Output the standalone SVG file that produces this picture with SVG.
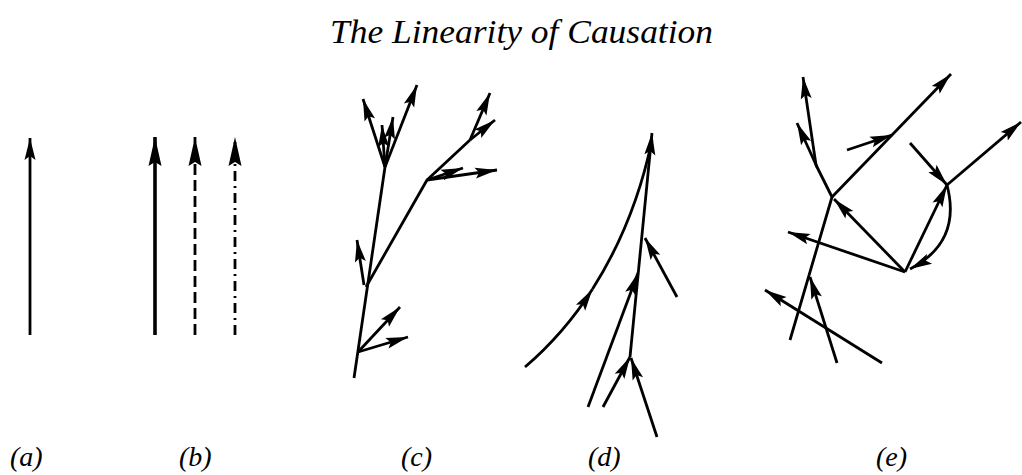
<svg xmlns="http://www.w3.org/2000/svg" width="1022" height="475" viewBox="0 0 1022 475">
<style>
.ln{fill:none;stroke:#000;stroke-width:2.8;stroke-linecap:butt;stroke-linejoin:round}
.ar{marker-end:url(#ah)}
.lab{font-family:"Liberation Serif",serif;font-style:italic;font-size:28px;fill:#000}
.title{font-family:"Liberation Serif",serif;font-style:italic;font-size:34px;fill:#000}
</style>
<defs>
<marker id="ah" markerUnits="userSpaceOnUse" viewBox="-24 -7 26 14" markerWidth="26" markerHeight="14" refX="0" refY="0" orient="auto">
<path d="M0,0 L-22,-5.5 L-18,0 L-22,5.5 Z" fill="#000"/>
</marker>
<marker id="ahb" markerUnits="userSpaceOnUse" viewBox="-32 -8 34 16" markerWidth="34" markerHeight="16" refX="0" refY="0" orient="auto">
<path d="M0,0 L-29,-6.5 L-25,0 L-29,6.5 Z" fill="#000"/>
</marker>
</defs>
<rect width="1022" height="475" fill="#fff"/>
<text class="title" x="330" y="43" textLength="383" lengthAdjust="spacingAndGlyphs">The Linearity of Causation</text>

<g id="connectors">
<g id="fig-a">
<line class="ln ar" x1="30" y1="335" x2="30" y2="138"/>
</g>
<g id="fig-b">
<line class="ln" style="stroke-width:3.6;marker-end:url(#ahb)" x1="155" y1="335" x2="155" y2="137"/>
<line class="ln" style="stroke-dasharray:11,5;marker-end:url(#ahb)" x1="195" y1="335" x2="195" y2="137"/>
<line class="ln" style="stroke-dasharray:10,5,2,5;marker-end:url(#ahb)" x1="235" y1="335" x2="235" y2="137"/>
</g>
<g id="fig-c">
<polyline class="ln" points="354,378 385,167"/>
<polyline class="ln" points="366,287 427,180 470,140"/>
<line class="ln ar" x1="358" y1="352" x2="400" y2="307"/>
<line class="ln ar" x1="358" y1="352" x2="408" y2="337"/>
<line class="ln ar" x1="364" y1="285" x2="357" y2="240"/>
<line class="ln ar" x1="385" y1="167" x2="363" y2="99"/>
<line class="ln ar" x1="385" y1="167" x2="382" y2="125"/>
<line class="ln ar" x1="385" y1="167" x2="393" y2="117"/>
<line class="ln ar" x1="385" y1="167" x2="417" y2="85"/>
<line class="ln ar" x1="470" y1="140" x2="490" y2="93"/>
<line class="ln ar" x1="470" y1="140" x2="495" y2="120"/>
<line class="ln ar" x1="427" y1="180" x2="463" y2="168"/>
<line class="ln ar" x1="427" y1="180" x2="497" y2="170"/>
</g>
<g id="fig-d">
<line class="ln ar" x1="630" y1="357" x2="652" y2="133"/>
<path class="ln ar" d="M525,367 Q564.2,333.4 592.4,289.2"/>
<path class="ln" d="M592.4,289.2 Q634.6,223 652,140"/>
<line class="ln ar" x1="677" y1="297" x2="645" y2="238"/>
<line class="ln ar" x1="588" y1="407" x2="638" y2="273"/>
<line class="ln ar" x1="603" y1="407" x2="630" y2="357"/>
<line class="ln ar" x1="657" y1="437" x2="631" y2="358"/>
</g>
<g id="fig-e">
<polyline class="ln" points="790,340 832,197 816,165"/>
<line class="ln ar" x1="816" y1="165" x2="803" y2="77"/>
<line class="ln ar" x1="817" y1="167" x2="797" y2="123"/>
<line class="ln ar" x1="832" y1="197" x2="951" y2="74"/>
<line class="ln ar" x1="847" y1="150" x2="892" y2="135"/>
<line class="ln ar" x1="905" y1="272" x2="834" y2="199"/>
<line class="ln ar" x1="905" y1="272" x2="788" y2="232"/>
<line class="ln ar" x1="905" y1="272" x2="947" y2="185"/>
<path class="ln ar" d="M947,185 Q962,242 910,269"/>
<line class="ln ar" x1="910" y1="143" x2="947" y2="185"/>
<line class="ln ar" x1="947" y1="185" x2="1021" y2="122"/>
<line class="ln ar" x1="882" y1="363" x2="765" y2="290"/>
<line class="ln ar" x1="837" y1="363" x2="810" y2="277"/>
</g>
</g>

<g id="labels">
<text class="lab" x="10" y="466">(a)</text>
<text class="lab" x="179" y="466">(b)</text>
<text class="lab" x="401" y="466">(c)</text>
<text class="lab" x="588" y="466">(d)</text>
<text class="lab" x="876" y="466">(e)</text>
</g>
</svg>
